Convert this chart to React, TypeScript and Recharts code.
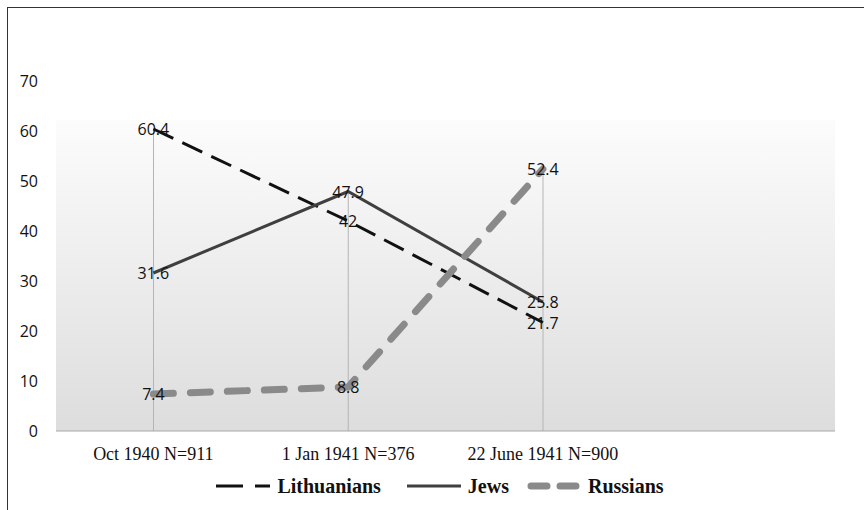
import { ComposedChart, Line, Bar, XAxis, YAxis, Legend, ReferenceArea, LabelList } from 'recharts'

const categories = ['Oct 1940 N=911', '1 Jan 1941 N=376', '22 June 1941 N=900', '']
const lithuanians = [60.4, 42, 21.7, null]
const jews = [31.6, 47.9, 25.8, null]
const russians = [7.4, 8.8, 52.4, null]
const yTicks = [0, 10, 20, 30, 40, 50, 60, 70]

const SERIES = [
  { key: 'lithuanians', name: 'Lithuanians', stroke: '#111111', width: 3, dash: '22 10', cap: 'butt', icon: '27 12' },
  { key: 'jews', name: 'Jews', stroke: '#3f3f3f', width: 3, dash: undefined, cap: 'butt', icon: undefined },
  { key: 'russians', name: 'Russians', stroke: '#8a8a8a', width: 7, dash: '20 17', cap: 'round', icon: '16 13' },
]

const data = categories.map((c, i) => {
  const vals = [lithuanians[i], jews[i], russians[i]].filter((v) => v != null) as number[]
  return {
    category: c,
    lithuanians: lithuanians[i],
    jews: jews[i],
    russians: russians[i],
    peak: vals.length ? Math.max(...vals) : null,
  }
})

function PointLabel(props: any) {
  const { x, y, value } = props
  if (value == null) return null
  return (
    <text x={x} y={y} textAnchor="middle" dominantBaseline="central"
          style={{ fontFamily: '"Open Sans", sans-serif', fontSize: 16, fill: '#111' }}>
      {value}
    </text>
  )
}

function renderLegend() {
  return (
    <div style={{ display: 'flex', justifyContent: 'center', alignItems: 'center', paddingLeft: 8, height: 30 }}>
      {SERIES.map((s, i) => (
        <div key={s.key} style={{ display: 'flex', alignItems: 'center', marginLeft: i === 0 ? 0 : (i === 1 ? 26 : 18) }}>
          <svg width={56} height={12}>
            <line x1={s.cap === 'round' ? 4 : 0} y1={6} x2={s.cap === 'round' ? 52 : 54} y2={6}
                  stroke={s.stroke} strokeWidth={s.width} strokeDasharray={s.icon} strokeLinecap={s.cap as any} />
          </svg>
          <span style={{ fontFamily: '"Liberation Serif", "Times New Roman", serif', fontWeight: 'bold', fontSize: 20, color: '#111', marginLeft: 5 }}>
            {s.name}
          </span>
        </div>
      ))}
    </div>
  )
}

export default function App() {
  return (
    <div style={{ position: 'absolute', left: 7, top: 7, width: 857, height: 503, borderTop: '1px solid #333', borderLeft: '1px solid #333', background: '#fff' }}>
      <ComposedChart width={856} height={502} data={data} margin={{ top: 73, right: 29, bottom: 9, left: 8 }}>
        <defs>
          <linearGradient id="plotBg" x1="0" y1="0" x2="0" y2="1">
            <stop offset="0%" stopColor="#fcfcfc" />
            <stop offset="100%" stopColor="#dddddd" />
          </linearGradient>
        </defs>
        <ReferenceArea y1={0} y2={62.2} fill="url(#plotBg)" fillOpacity={1} stroke="none" />
        <XAxis
          dataKey="category"
          height={40}
          axisLine={{ stroke: '#a8a8a8' }}
          tickLine={false}
          tickMargin={10}
          interval={0}
          tick={{ fill: '#111', fontSize: 18, fontFamily: '"Liberation Serif", "Times New Roman", serif' }}
        />
        <YAxis
          width={40}
          domain={[0, 70]}
          ticks={yTicks}
          axisLine={false}
          tickLine={false}
          tickMargin={12}
          tick={{ fill: '#111', fontSize: 16, fontFamily: '"Open Sans", sans-serif' }}
        />
        <Bar dataKey="peak" barSize={1} fill="#b5b5b5" isAnimationActive={false} legendType="none" />
        {SERIES.map((s) => (
          <Line
            key={s.key}
            type="linear"
            dataKey={s.key}
            name={s.name}
            stroke={s.stroke}
            strokeWidth={s.width}
            strokeDasharray={s.dash}
            strokeLinecap={s.cap as any}
            dot={false}
            activeDot={false}
            isAnimationActive={false}
          >
            <LabelList dataKey={s.key} content={<PointLabel />} />
          </Line>
        ))}
        <Legend verticalAlign="bottom" height={30} content={renderLegend} wrapperStyle={{ left: 0, width: 856 }} />
      </ComposedChart>
    </div>
  )
}
